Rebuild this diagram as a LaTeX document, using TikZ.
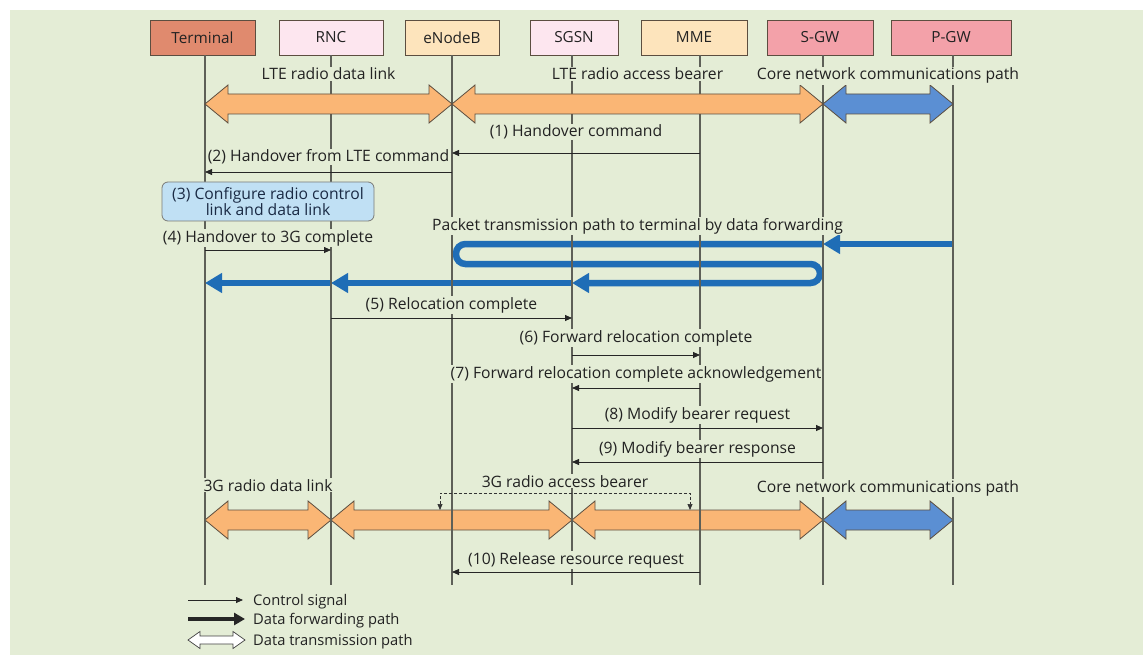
\documentclass[tikz,border=0pt]{standalone}
\usepackage{fontspec}
\setmainfont{Open Sans}
\usetikzlibrary{arrows.meta,calc}

\definecolor{panel}{HTML}{E4EDD6}
\definecolor{termfill}{HTML}{E08A6E}
\definecolor{pinkfill}{HTML}{FDE6EF}
\definecolor{creamfill}{HTML}{FDE4BC}
\definecolor{gwfill}{HTML}{F3A1A9}
\definecolor{edge}{HTML}{5C4E40}
\definecolor{lifeline}{HTML}{5E6058}
\definecolor{orangearrow}{HTML}{FAB675}
\definecolor{bluearrow}{HTML}{5B8FD3}
\definecolor{fwdblue}{HTML}{1F6DB6}
\definecolor{stepblue}{HTML}{C0E0F4}
\definecolor{ink}{HTML}{222222}
\definecolor{stepink}{HTML}{1A2A44}

% wide double-headed band between two lifelines at height #4
\newcommand\bandarrow[4]{%
  \coordinate (ba-a) at (#2 |- 0,#4);
  \coordinate (ba-b) at (#3 |- 0,#4);
  \filldraw[band, fill=#1] (ba-a) -- ($(ba-a)+(23,-19)$) -- ($(ba-a)+(23,-10)$)
    -- ($(ba-b)+(-23,-10)$) -- ($(ba-b)+(-23,-19)$) -- (ba-b)
    -- ($(ba-b)+(-23,19)$) -- ($(ba-b)+(-23,10)$)
    -- ($(ba-a)+(23,10)$) -- ($(ba-a)+(23,19)$) -- cycle;}

% control signal: arrow at height #3, label baseline at #4
\newcommand\sigmsg[5]{%
  \draw[msgline] (#1 |- 0,#3) -- (#2 |- 0,#3);
  \path (#1 |- 0,#4) -- node[lbl] {#5} (#2 |- 0,#4);}

\begin{document}
\begin{tikzpicture}[x=1pt,y=-1pt,
  every node/.style={text=ink},
  ent/.style={draw=edge, line width=0.8pt, minimum height=35pt, inner sep=0pt,
    font=\fontsize{15.3}{17}\selectfont},
  life/.style={draw=lifeline, line width=1.1pt},
  msgline/.style={draw=black!85, line width=0.8pt, -{Triangle[length=7pt,width=6pt]}},
  lbl/.style={anchor=base, fill=panel, inner sep=1pt, font=\fontsize{15.7}{17}\selectfont},
  legtxt/.style={anchor=base west, inner sep=0pt, font=\fontsize{14.7}{16}\selectfont},
  band/.style={draw=edge, line width=0.8pt, line join=miter},
  fwd/.style={draw=fwdblue, line width=6.5pt, -{Triangle[length=17pt,width=19pt]}},
  stepbox/.style={draw=edge!70!stepblue, fill=stepblue, line width=0.8pt, rounded corners=6pt,
    minimum width=212pt, minimum height=39pt, inner sep=0pt, align=center,
    text=stepink, font=\fontsize{15.7}{15}\selectfont},
  bracket/.style={draw=black!80, line width=0.7pt, dash pattern=on 3pt off 2pt,
    {Triangle[length=6pt,width=5pt]}-{Triangle[length=6pt,width=5pt]}}
]
\useasboundingbox (0,0) rectangle (1143,655);
\fill[white] (0,0) rectangle (1143,655);
\fill[panel] (10,10) rectangle (1143,655);

% network elements
\node[ent, fill=termfill,  minimum width=105pt] (term) at (202.5,37.5) {Terminal};
\node[ent, fill=pinkfill,  minimum width=104pt] (rnc)  at (331,37.5)   {RNC};
\node[ent, fill=creamfill, minimum width=94pt]  (enb)  at (452,37.5)   {eNodeB};
\node[ent, fill=pinkfill,  minimum width=88pt]  (sgsn) at (574,37.5)   {SGSN};
\node[ent, fill=creamfill, minimum width=106pt] (mme)  at (694,37.5)   {MME};
\node[ent, fill=gwfill,    minimum width=106pt] (sgw)  at (820,37.5)   {S-GW};
\node[ent, fill=gwfill,    minimum width=120pt] (pgw)  at (951,37.5)   {P-GW};

% lifeline feet
\coordinate (Lterm) at (205,585);
\coordinate (Lrnc)  at (331,585);
\coordinate (Lenb)  at (452,585);
\coordinate (Lsgsn) at (572,585);
\coordinate (Lmme)  at (700,585);
\coordinate (Lsgw)  at (823,585);
\coordinate (Lpgw)  at (953,585);

% data forwarding path (drawn beneath the lifelines)
\draw[fwd] (Lpgw |- 0,244) -- (Lsgw |- 0,244);
\draw[fwd, rounded corners=9.5pt] (Lsgw |- 0,244) -- ($(Lenb |- 0,244)+(4,0)$)
  -- ($(Lenb |- 0,264)+(4,0)$) -- ($(Lsgw |- 0,264)+(-3,0)$)
  -- ($(Lsgw |- 0,283)+(-3,0)$) -- (Lsgsn |- 0,283);
\draw[fwd] (Lsgsn |- 0,283) -- (Lrnc |- 0,283);
\draw[fwd] (Lrnc |- 0,283) -- (Lterm |- 0,283);

% 3G bearers (beneath the lifelines)
\bandarrow{orangearrow}{Lterm}{Lrnc}{520}
\bandarrow{orangearrow}{Lrnc}{Lsgsn}{520}
\bandarrow{orangearrow}{Lsgsn}{Lsgw}{520}
\bandarrow{bluearrow}{Lsgw}{Lpgw}{520}

% lifelines
\foreach \e/\f in {term/Lterm, rnc/Lrnc, enb/Lenb, sgsn/Lsgsn, mme/Lmme, sgw/Lsgw, pgw/Lpgw}
  \draw[life] (\e.south -| \f) -- (\f);

% LTE bearers
\bandarrow{orangearrow}{Lterm}{Lenb}{104}
\bandarrow{orangearrow}{Lenb}{Lsgw}{104}
\bandarrow{bluearrow}{Lsgw}{Lpgw}{104}

\path (Lterm |- 0,80) -- node[lbl] {LTE radio data link} (Lenb |- 0,80);
\path (Lenb |- 0,80) -- node[lbl] {LTE radio access bearer} (Lsgw |- 0,80);
\path (Lsgw |- 0,80) -- node[lbl] {Core network communications path} (Lpgw |- 0,80);

% signalling sequence
\sigmsg{Lmme}{Lenb}{153}{137}{(1) Handover command}
\sigmsg{Lenb}{Lterm}{172}{162}{(2) Handover from LTE command}
\node[stepbox] (cfg) at (268,201.5) {(3) Configure radio control\\link and data link};
\sigmsg{Lterm}{Lrnc}{250}{242}{(4) Handover to 3G complete}
\path (Lenb |- 0,230) -- node[lbl] {Packet transmission path to terminal by data forwarding} (Lsgw |- 0,230);
\sigmsg{Lrnc}{Lsgsn}{318}{309}{(5) Relocation complete}
\sigmsg{Lsgsn}{Lmme}{355}{342}{(6) Forward relocation complete}
\sigmsg{Lmme}{Lsgsn}{388}{378}{(7) Forward relocation complete acknowledgement}
\sigmsg{Lsgsn}{Lsgw}{428}{419}{(8) Modify bearer request}
\sigmsg{Lsgw}{Lsgsn}{462}{453}{(9) Modify bearer response}

% 3G side labels and access bearer bracket
\path (Lterm |- 0,491) -- node[lbl] {3G radio data link} (Lrnc |- 0,491);
\path (Lsgw |- 0,492) -- node[lbl] {Core network communications path} (Lpgw |- 0,492);
\coordinate (rabL) at (440,510);
\coordinate (rabR) at (690,510);
\draw[bracket] (rabL) -- (rabL |- 0,493) -- (rabR |- 0,493) -- (rabR);
\path (rabL |- 0,487) -- node[lbl] {3G radio access bearer} (rabR |- 0,487);

\sigmsg{Lmme}{Lenb}{572}{564}{(10) Release resource request}

% legend
\coordinate (lgA1) at (188,600); \coordinate (lgB1) at (243,600);
\draw[msgline] (lgA1) -- (lgB1);
\node[legtxt] (lgT1) at (253,605) {Control signal};
\coordinate (lgA2) at (188,619); \coordinate (lgB2) at (245,619);
\draw[draw=black!85, line width=4pt, -{Triangle[length=11pt,width=12pt]}] (lgA2) -- (lgB2);
\node[legtxt] (lgT2) at (253,624) {Data forwarding path};
\coordinate (lgA3) at (188,640); \coordinate (lgB3) at (245,640);
\filldraw[draw=black!75, fill=white, line width=0.7pt] (lgA3) -- ($(lgA3)+(12,-8.5)$) -- ($(lgA3)+(12,-4)$)
  -- ($(lgB3)+(-12,-4)$) -- ($(lgB3)+(-12,-8.5)$) -- (lgB3) -- ($(lgB3)+(-12,8.5)$)
  -- ($(lgB3)+(-12,4)$) -- ($(lgA3)+(12,4)$) -- ($(lgA3)+(12,8.5)$) -- cycle;
\node[legtxt] (lgT3) at (253,645) {Data transmission path};
\end{tikzpicture}
\end{document}
